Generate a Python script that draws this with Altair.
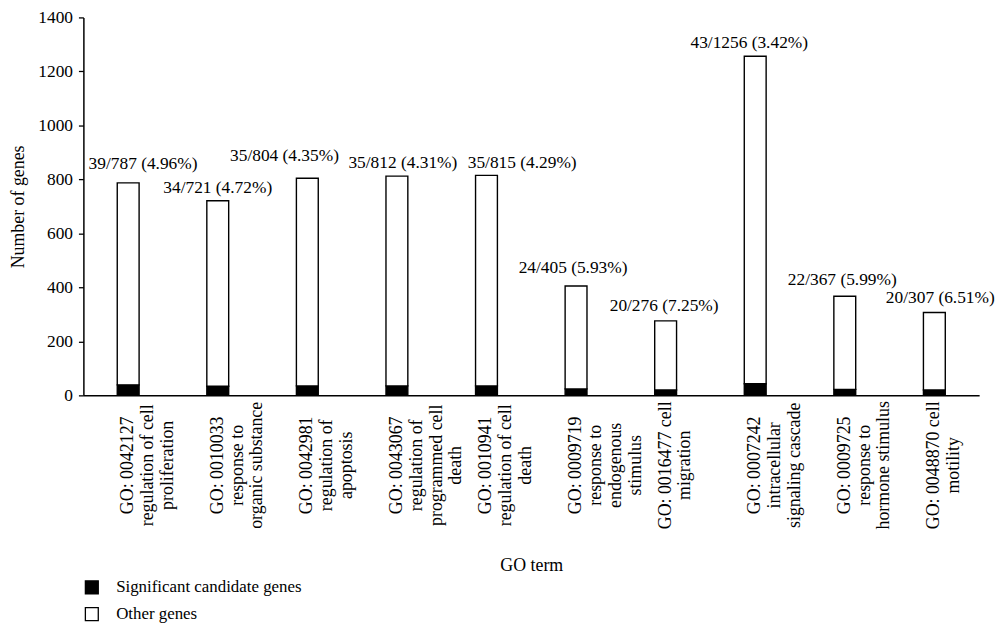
import altair as alt
import pandas as pd

# ---- data ----
term_lines = [
    ["GO: 0042127", "regulation of cell", "proliferation"],
    ["GO: 0010033", "response to", "organic substance"],
    ["GO: 0042981", "regulation of", "apoptosis"],
    ["GO: 0043067", "regulation of", "programmed cell", "death"],
    ["GO: 0010941", "regulation of cell", "death"],
    ["GO: 0009719", "response to", "endogenous", "stimulus"],
    ["GO: 0016477 cell", "migration"],
    ["GO: 0007242", "intracellular", "signaling cascade"],
    ["GO: 0009725", "response to", "hormone stimulus"],
    ["GO: 0048870 cell", "motility"],
]
significant = [39, 34, 35, 35, 35, 24, 20, 43, 22, 20]
total = [787, 721, 804, 812, 815, 405, 276, 1256, 367, 307]

series_names = ["Significant candidate genes", "Other genes"]
y_ticks = [0, 200, 400, 600, 800, 1000, 1200, 1400]

# annotation nudges (pixels) so neighbouring labels do not collide
label_dx = [15, 0, -23, 6, 36, -3, -1.5, -6, -2.5, 6]
label_gap = [19.4, 12.7, 22.3, 13.3, 12.2, 18, 15, 13, 16, 14.7]

FONT = "Liberation Serif"

categories = ["|".join(lines) for lines in term_lines]

rows = []
for c, s, t in zip(categories, significant, total):
    rows.append({"term": c, "type": series_names[0], "lo": 0, "hi": s})
    rows.append({"term": c, "type": series_names[1], "lo": s, "hi": t})
bars_df = pd.DataFrame(rows)

lab_rows = []
for c, s, t in zip(categories, significant, total):
    lab_rows.append({"term": c, "total": t, "label": f"{s}/{t} ({s / t * 100:.2f}%)"})
labels_df = pd.DataFrame(lab_rows)

x_scale = alt.Scale(paddingInner=0.756, paddingOuter=0.378)

x_enc = alt.X(
    "term:N",
    sort=categories,
    title="GO term",
    scale=x_scale,
    axis=alt.Axis(
        labelAngle=270,
        labelAlign="center",
        labelBaseline="middle",
        labelPadding=70,
        labelExpr="split(datum.label, '|')",
        labelLineHeight=20,
        labelFontSize=18,
        labelLimit=0,
        ticks=False,
        tickSize=0,
        domainColor="black",
        domainWidth=1.5,
        titleFontSize=18,
        titleBaseline="middle",
        titleY=172,
    ),
)

bars = alt.Chart(bars_df).mark_bar(stroke="black", strokeWidth=1.4).encode(
    x=x_enc,
    y=alt.Y(
        "lo:Q",
        title="Number of genes",
        scale=alt.Scale(domain=[0, 1400], nice=False),
        axis=alt.Axis(
            values=y_ticks,
            format="d",
            grid=False,
            tickSize=5,
            tickWidth=1.3,
            tickColor="black",
            domainColor="black",
            domainWidth=1.5,
            labelPadding=6,
            labelFontSize=17.5,
            titleFontSize=18,
            titlePadding=10,
        ),
    ),
    y2="hi:Q",
    color=alt.Color(
        "type:N",
        scale=alt.Scale(domain=series_names, range=["black", "white"]),
        legend=alt.Legend(
            title=None,
            orient="none",
            legendX=0,
            legendY=566,
            symbolType="square",
            symbolSize=169,
            symbolStrokeColor="black",
            symbolStrokeWidth=1.3,
            labelFontSize=17,
            labelFont=FONT,
            labelColor="black",
            labelLimit=0,
            rowPadding=8,
            labelOffset=16,
        ),
    ),
)

text_layers = []
for i, c in enumerate(categories):
    text_layers.append(
        alt.Chart(labels_df)
        .transform_filter(alt.datum.term == c)
        .mark_text(
            fontSize=17.5,
            font=FONT,
            baseline="middle",
            color="black",
            dx=label_dx[i],
            dy=-label_gap[i],
        )
        .encode(
            x=alt.X("term:N", sort=categories),
            y=alt.Y("total:Q"),
            text="label:N",
        )
    )

chart = (
    alt.layer(bars, *text_layers)
    .properties(
        width=903,
        height=381,
        autosize=alt.AutoSizeParams(type="none"),
        padding={"left": 76, "top": 7, "right": 18, "bottom": 230},
        background="white",
    )
    .configure_view(stroke=None)
    .configure_axis(
        labelFont=FONT,
        titleFont=FONT,
        labelColor="black",
        titleColor="black",
        titleFontWeight="normal",
    )
)

chart.save("out.html", embed_options={"renderer": "svg", "actions": False})
